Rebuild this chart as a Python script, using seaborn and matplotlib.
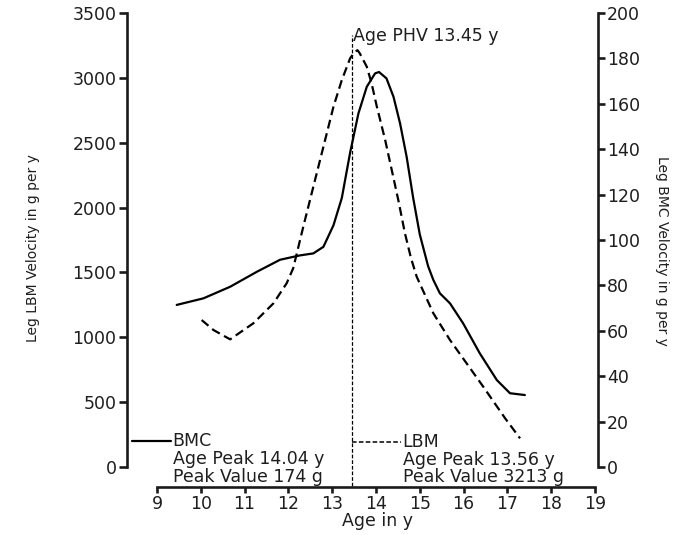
import matplotlib
matplotlib.use("Agg")
import matplotlib.pyplot as plt
import seaborn as sns
import pandas as pd

# ---- data ----
bmc_age = [9.45, 10.06, 10.67, 11.28, 11.81, 12.26, 12.57, 12.8, 13.03, 13.22,
           13.41, 13.6, 13.79, 13.98, 14.07, 14.24, 14.4, 14.55, 14.7, 14.85,
           15.0, 15.19, 15.31, 15.46, 15.69, 15.99, 16.37, 16.76, 17.06, 17.4]
bmc_vel = [71.4, 74.3, 79.4, 86.0, 91.3, 93.2, 94.1, 97.0, 106.5, 118.5,
           138.5, 155.8, 167.5, 173.4, 174.0, 171.2, 163.1, 151.4, 136.7, 118.5,
           102.5, 88.5, 82.4, 76.5, 72.1, 63.3, 50.1, 38.3, 32.5, 31.7]

lbm_age = [10.02, 10.29, 10.67, 11.2, 11.66, 11.96, 12.11, 12.34, 12.57, 12.8,
           13.03, 13.22, 13.41, 13.52, 13.58, 13.63, 13.79, 13.9, 14.02, 14.21,
           14.36, 14.51, 14.66, 14.8, 14.93, 15.31, 15.69, 16.07, 16.45, 16.95,
           17.29]
lbm_vel = [1133, 1056, 984, 1108, 1262, 1416, 1532, 1852, 2161, 2469,
           2778, 2983, 3151, 3202, 3213, 3189, 3086, 2958, 2778, 2521,
           2290, 2058, 1804, 1610, 1467, 1185, 979, 799, 619, 375,
           221]

x_ticks = [9, 10, 11, 12, 13, 14, 15, 16, 17, 18, 19]
lbm_ticks = [0, 500, 1000, 1500, 2000, 2500, 3000, 3500]
bmc_ticks = [0, 20, 40, 60, 80, 100, 120, 140, 160, 180, 200]

phv_age = 13.45
bmc_label = ["BMC", "Age Peak 14.04 y", "Peak Value 174 g"]
lbm_label = ["LBM", "Age Peak 13.56 y", "Peak Value 3213 g"]

bmc_df = pd.DataFrame({"age": bmc_age, "vel": bmc_vel})
lbm_df = pd.DataFrame({"age": lbm_age, "vel": lbm_vel})

sns.set_theme(style="ticks")
plt.rcParams["font.family"] = ["DejaVu Sans"]
plt.rcParams["lines.solid_joinstyle"] = "round"
plt.rcParams["lines.dash_joinstyle"] = "round"
TXT = "#1e1e1e"
FS = 12.5

fig = plt.figure(figsize=(6.8, 5.35), dpi=100)
ax = fig.add_axes([127 / 680, 1 - 467 / 535, (598 - 127) / 680, (467 - 13) / 535])
ax.patch.set_alpha(0)
ax2 = ax.twinx()

# curves
sns.lineplot(data=lbm_df, x="age", y="vel", ax=ax, color="black", lw=1.6,
             linestyle=(0, (4, 2.2)), sort=False, estimator=None)
sns.lineplot(data=bmc_df, x="age", y="vel", ax=ax2, color="black", lw=1.6,
             sort=False, estimator=None)

ax.set_xlim(8.315, 19.07)
ax.set_ylim(0, 3500)
ax2.set_ylim(0, 200)

# spines
for s in ["top", "right"]:
    ax.spines[s].set_visible(False)
for s in ["top", "left", "bottom"]:
    ax2.spines[s].set_visible(False)
ax.spines["left"].set_bounds(0, 3500)
ax2.spines["right"].set_bounds(0, 200)
ax.spines["bottom"].set_position(("outward", 14.5))
ax.spines["bottom"].set_bounds(9, 19)
for sp in [ax.spines["left"], ax.spines["bottom"], ax2.spines["right"]]:
    sp.set_linewidth(1.9)
    sp.set_color("#1a1a1a")

ax.set_xticks(x_ticks)
ax.set_xticklabels([str(v) for v in x_ticks])
ax.set_yticks(lbm_ticks)
ax.set_yticklabels([str(v) for v in lbm_ticks])
ax2.set_yticks(bmc_ticks)
ax2.set_yticklabels([str(v) for v in bmc_ticks])
ax.tick_params(axis="y", direction="out", length=6, width=1.9, pad=1.5,
               labelsize=FS, labelcolor=TXT, color="#1a1a1a")
ax.tick_params(axis="x", direction="out", length=4, width=1.9, pad=1.5,
               labelsize=FS, labelcolor=TXT, color="#1a1a1a")
ax2.tick_params(axis="y", direction="out", length=5, width=1.9, pad=1.5,
                labelsize=FS, labelcolor=TXT, color="#1a1a1a")
ax.set_xlabel("")
ax.set_ylabel("")
ax2.set_ylabel("")
ax.grid(False)
ax2.grid(False)

# axis titles
fig.text(33 / 680, 1 - 248 / 535, "Leg LBM Velocity in g per y", rotation=90,
         ha="center", va="center", fontsize=10, color=TXT)
fig.text(662 / 680, 1 - 251 / 535, "Leg BMC Velocity in g per y", rotation=270,
         ha="center", va="center", fontsize=10, color=TXT)
fig.text(377 / 680, 1 - 521.5 / 535, "Age in y", ha="center", va="center",
         fontsize=FS, color=TXT)

# PHV marker
ax.plot([phv_age, phv_age], [-150, 3330], color="black", lw=0.9,
        linestyle=(0, (3, 1.5)), clip_on=False)
ax.text(phv_age + 0.03, 3323, f"Age PHV {phv_age} y", ha="left", va="center",
        fontsize=FS, color=TXT)

# legend-like annotations
ax.plot([8.42, 9.33], [200, 200], color="black", lw=1.6, clip_on=False)
ax.text(9.34, 200, bmc_label[0], ha="left", va="center", fontsize=FS, color=TXT)
ax.text(9.36, 62, bmc_label[1], ha="left", va="center", fontsize=FS, color=TXT)
ax.text(9.36, -75, bmc_label[2], ha="left", va="center", fontsize=FS, color=TXT)

ax.plot([phv_age, 14.57], [195, 195], color="black", lw=1.1,
        linestyle=(0, (3, 1.5)), clip_on=False)
ax.text(14.59, 195, lbm_label[0], ha="left", va="center", fontsize=FS, color=TXT)
ax.text(14.61, 54, lbm_label[1], ha="left", va="center", fontsize=FS, color=TXT)
ax.text(14.61, -79, lbm_label[2], ha="left", va="center", fontsize=FS, color=TXT)

fig.savefig("out.png", dpi=100)
